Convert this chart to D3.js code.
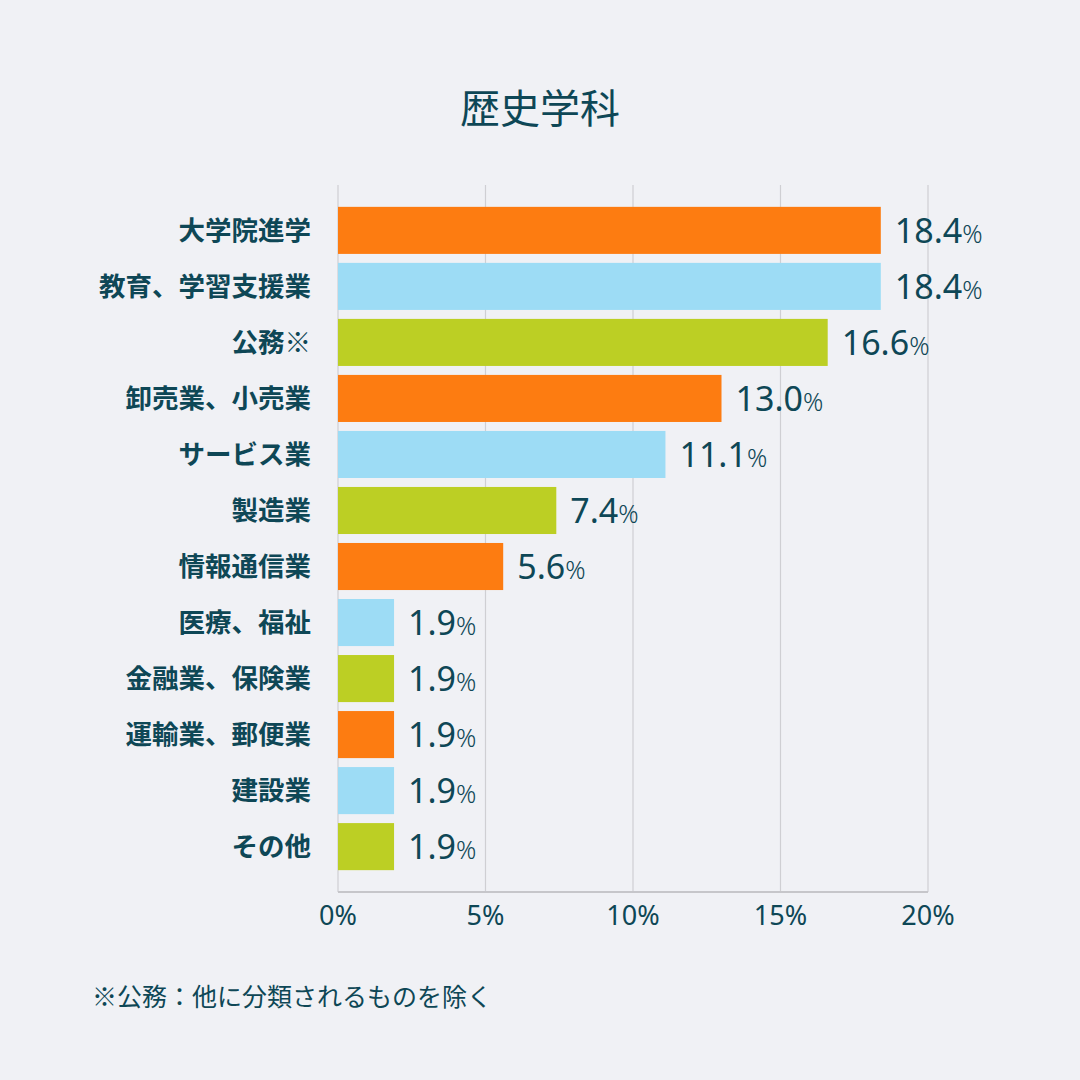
<!DOCTYPE html>
<html><head><meta charset="utf-8">
<script src="https://cdn.jsdelivr.net/npm/d3@7"></script>
<style>
html,body{margin:0;padding:0;background:#f0f1f5;}
svg{display:block;}
</style></head>
<body>
<svg id="chart" width="1080" height="1080"></svg>
<script>
const title = "歴史学科";
const categories = ["大学院進学","教育、学習支援業","公務※","卸売業、小売業","サービス業","製造業","情報通信業","医療、福祉","金融業、保険業","運輸業、郵便業","建設業","その他"];
const values = [18.4,18.4,16.6,13.0,11.1,7.4,5.6,1.9,1.9,1.9,1.9,1.9];
const barColors = ["#fd7c11","#9ddcf5","#bccf24"];
const tickValues = [0,5,10,15,20];
const footnote = "※公務：他に分類されるものを除く";

const svg = d3.select("#chart");
const textColor = "#0e4756";
const jp = "'Noto Sans CJK JP','Noto Sans',sans-serif";
const num = "'Noto Sans','Noto Sans CJK JP',sans-serif";

svg.append("rect").attr("width",1080).attr("height",1080).attr("fill","#f0f1f5");

const x = d3.scaleLinear().domain([0,20]).range([338,928]);
const y = d3.scaleBand().domain(categories).range([185,892]).paddingInner(0.16).paddingOuter(0.39);

// grid
svg.append("g").selectAll("line").data(tickValues).join("line")
  .attr("x1",d=>x(d)).attr("x2",d=>x(d)).attr("y1",185).attr("y2",892)
  .attr("stroke","#cfcfd3").attr("stroke-width",1.2);
svg.append("line").attr("x1",x(0)).attr("x2",x(20)).attr("y1",892).attr("y2",892)
  .attr("stroke","#c6c6ca").attr("stroke-width",2);

// bars
svg.append("g").selectAll("rect").data(values).join("rect")
  .attr("x",x(0)).attr("y",(d,i)=>y(categories[i]))
  .attr("width",d=>x(d)-x(0)).attr("height",y.bandwidth())
  .attr("fill",(d,i)=>barColors[i%3]);

// value labels
const vl = svg.append("g").selectAll("text").data(values).join("text")
  .attr("x",d=>x(d)+14).attr("y",(d,i)=>y(categories[i])+y.bandwidth()/2)
  .attr("dy","0.36em").attr("fill",textColor)
  .attr("font-family",num).attr("font-weight",400).attr("font-size",34);
vl.append("tspan").text(d=>d.toFixed(1));
vl.append("tspan").attr("font-size",25).attr("font-weight",300).text("%");

// category labels
svg.append("g").selectAll("text").data(categories).join("text")
  .attr("x",311).attr("y",d=>y(d)+y.bandwidth()/2).attr("dy","0.36em")
  .attr("text-anchor","end").attr("fill",textColor)
  .attr("font-family",jp).attr("font-weight",700).attr("font-size",26.5)
  .text(d=>d);

// tick labels
svg.append("g").selectAll("text").data(tickValues).join("text")
  .attr("x",d=>x(d)).attr("y",925).attr("text-anchor","middle")
  .attr("fill",textColor).attr("font-family",num).attr("font-weight",400).attr("font-size",27)
  .text(d=>d+"%");

// title
svg.append("text").attr("x",540).attr("y",123).attr("text-anchor","middle")
  .attr("fill",textColor).attr("font-family",jp).attr("font-weight",400).attr("font-size",40).text(title);

// footnote
svg.append("text").attr("x",92).attr("y",1006)
  .attr("fill",textColor).attr("font-family",jp).attr("font-size",25).text(footnote);
</script>
</body></html>
